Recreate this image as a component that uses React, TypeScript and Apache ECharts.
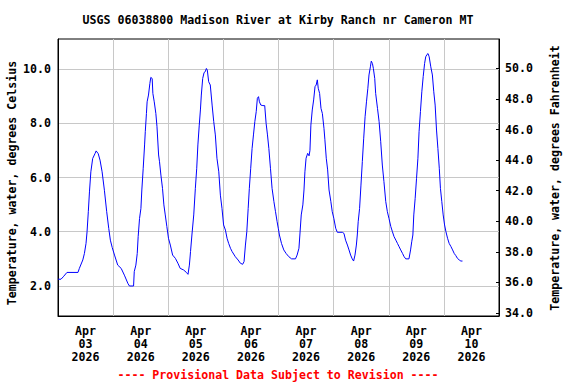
import React, { useEffect, useRef } from "react";
import * as echarts from "echarts";

// Hours since Apr 03 2026 00:00 and water temperature (deg C)
const hours: number[] = [
  0, 1.3, 2.3, 3.9, 8.7, 9.3, 10.8, 11.5, 12.2, 12.65, 13.2, 13.7, 14.3, 15.1, 16.1, 16.6, 17.5, 18.3, 19.2, 20.2,
  21.2, 22.1, 22.8, 23.6, 24.6, 26.0, 27.5, 28.9, 30.4, 31.1, 32.9, 33.2, 33.9, 34.5, 34.9, 35.5, 36.1, 36.5, 37.1, 37.7,
  38.0, 38.5, 38.8, 39.4, 40.0, 40.4, 41.0, 41.3, 41.9, 42.6, 43.1, 43.8, 44.2, 44.8, 45.5, 46.1, 46.7, 47.4, 48.1, 48.9,
  49.9, 51.1, 52.2, 53.2, 54.7, 55.9, 56.6, 57.2, 57.7, 58.3, 59.1, 59.8, 60.4, 60.9, 61.5, 62.0, 62.4, 63.0, 63.6, 64.1,
  64.6, 65.0, 65.6, 66.3, 67.1, 67.8, 68.5, 69.2, 70.0, 70.7, 71.4, 72.1, 72.9, 73.6, 74.3, 75.1, 75.8, 77.2, 78.4, 79.4,
  80.4, 81.0, 81.6, 82.2, 82.8, 83.3, 83.9, 84.5, 85.1, 85.7, 86.3, 86.8, 87.3, 87.7, 88.3, 89.2, 90.0, 90.6, 91.2, 91.8,
  92.5, 93.2, 94.0, 94.7, 95.4, 95.9, 96.4, 97.3, 98.3, 99.3, 100.5, 101.7, 103.4, 104.1, 104.9, 105.3, 105.9, 106.6, 107.1, 107.5,
  108.0, 108.7, 109.3, 109.7, 110.1, 110.7, 111.3, 111.9, 112.4, 112.9, 113.3, 113.9, 114.5, 115.1, 115.8, 116.2, 116.8, 117.4, 118.0, 118.8,
  119.4, 120.1, 120.9, 121.6, 123.8, 124.5, 125.2, 126.0, 126.7, 127.4, 128.1, 128.7, 129.3, 129.9, 130.3, 130.7, 131.3, 131.9, 132.5, 133.1,
  133.7, 134.3, 134.9, 135.4, 136.0, 136.4, 136.9, 137.3, 137.9, 138.3, 139.1, 139.8, 140.5, 141.2, 141.9, 142.7, 143.4, 144.1, 144.9, 145.6,
  146.3, 147.1, 147.8, 148.5, 149.2, 150.0, 150.7, 151.4, 152.8, 153.5, 154.0, 154.5, 154.9, 155.5, 156.1, 156.7, 157.2, 157.8, 158.4, 159.0,
  159.6, 160.1, 160.7, 161.1, 161.6, 162.3, 163.0, 163.6, 164.2, 164.8, 165.4, 166.0, 166.5, 167.1, 167.7, 168.3, 168.9, 169.6, 170.3, 171.1,
  171.8, 172.5, 173.2, 173.9, 174.7, 175.4, 176.1,
];

const tempC: number[] = [
  2.25, 2.25, 2.34, 2.5, 2.5, 2.65, 2.96, 3.2, 3.57, 4.0, 4.74, 5.47, 6.21, 6.7, 6.88, 6.98, 6.88, 6.64, 6.21, 5.53,
  4.74, 4.12, 3.69, 3.42, 3.14, 2.77, 2.65, 2.4, 2.1, 2.0, 2.0, 2.53, 2.77, 3.2, 3.82, 4.49, 4.86, 5.54, 6.34, 7.2,
  7.69, 8.36, 8.79, 9.04, 9.47, 9.69, 9.65, 9.1, 8.79, 8.36, 7.87, 6.83, 6.58, 6.09, 5.6, 4.99, 4.62, 4.19, 3.76, 3.51,
  3.14, 3.02, 2.84, 2.65, 2.59, 2.5, 2.43, 2.77, 3.27, 3.88, 4.62, 5.6, 6.34, 7.2, 7.93, 8.49, 9.04, 9.65, 9.87, 9.9,
  10.02, 9.96, 9.53, 9.41, 8.67, 8.06, 7.57, 6.71, 6.21, 5.35, 4.86, 4.25, 4.06, 3.76, 3.57, 3.39, 3.27, 3.08, 2.96, 2.84,
  2.8, 2.9, 3.51, 4.0, 4.86, 5.6, 6.34, 7.07, 7.57, 8.06, 8.43, 8.92, 8.98, 8.79, 8.67, 8.65, 8.65, 8.0, 7.57, 7.07,
  6.34, 5.6, 5.11, 4.74, 4.37, 4.13, 3.88, 3.57, 3.33, 3.2, 3.08, 3.0, 3.0, 3.14, 3.39, 3.88, 4.62, 4.99, 5.54, 6.21,
  6.71, 6.89, 6.8, 7.0, 7.93, 8.49, 8.86, 9.35, 9.41, 9.6, 9.29, 9.1, 8.55, 8.36, 7.81, 7.39, 6.71, 6.28, 5.54, 5.11,
  4.74, 4.49, 4.13, 3.98, 3.98, 3.94, 3.69, 3.51, 3.33, 3.14, 3.0, 2.92, 3.14, 3.51, 3.88, 4.37, 4.86, 5.72, 6.59, 7.45,
  8.24, 8.79, 9.29, 9.78, 10.08, 10.29, 10.2, 10.02, 9.65, 9.1, 8.55, 8.06, 7.32, 6.46, 5.85, 5.11, 4.74, 4.49, 4.19, 4.0,
  3.82, 3.69, 3.57, 3.45, 3.33, 3.2, 3.08, 3.0, 3.0, 3.33, 3.63, 3.88, 4.62, 5.23, 5.97, 6.71, 7.69, 8.43, 9.16, 9.72,
  10.2, 10.45, 10.54, 10.57, 10.45, 10.08, 9.78, 9.16, 8.67, 7.75, 7.07, 6.34, 5.6, 5.11, 4.62, 4.25, 4.0, 3.76, 3.57, 3.45,
  3.33, 3.2, 3.12, 3.02, 2.96, 2.92, 2.92,
];

const dateLabelHours: number[] = [12, 36, 60, 84, 108, 132, 156, 180];
const dateLabels: string[] = [
  "Apr\n03\n2026", "Apr\n04\n2026", "Apr\n05\n2026", "Apr\n06\n2026",
  "Apr\n07\n2026", "Apr\n08\n2026", "Apr\n09\n2026", "Apr\n10\n2026",
];
const celsiusTicks: number[] = [2, 4, 6, 8, 10];
const fahrenheitTicks: number[] = [34, 36, 38, 40, 42, 44, 46, 48, 50];

const titleText = "USGS 06038800 Madison River at Kirby Ranch nr Cameron MT";
const leftName = "Temperature, water, degrees Celsius";
const rightName = "Temperature, water, degrees Fahrenheit";
const footerText = "---- Provisional Data Subject to Revision ----";

const FONT = "'DejaVu Sans Mono', 'Liberation Mono', monospace";
const FS = 11.6;

export default function App() {
  const ref = useRef<HTMLDivElement>(null);

  useEffect(() => {
    document.body.style.margin = "0";
    if (!ref.current) return;
    const chart = echarts.init(ref.current, undefined, { renderer: "svg" });
    const textStyleBase = {
      fontFamily: FONT,
      fontSize: FS,
      fontWeight: "bold" as const,
      fill: "#000",
    };
    chart.setOption({
      animation: false,
      backgroundColor: "#fff",
      grid: {
        left: 58,
        right: 77,
        top: 39,
        bottom: 68,
        show: true,
        borderColor: "#000",
        borderWidth: 1,
        backgroundColor: "transparent",
      },
      xAxis: {
        type: "value",
        min: 0,
        max: 192,
        interval: 24,
        axisLine: { show: true, lineStyle: { color: "#000", width: 1 } },
        axisTick: { show: false },
        splitLine: { show: true, lineStyle: { color: "#c8c8c8", width: 1 } },
        axisLabel: {
          customValues: dateLabelHours,
          formatter: (v: number) => {
            const i = dateLabelHours.indexOf(Math.round(v));
            return i >= 0 ? dateLabels[i] : "";
          },
          margin: 9,
          color: "#000",
          fontFamily: FONT,
          fontSize: FS,
          fontWeight: "bold",
          lineHeight: 12.7,
          align: "center",
        },
      },
      yAxis: [
        {
          type: "value",
          position: "left",
          min: 0.894,
          max: 11.106,
          axisLine: { show: true, lineStyle: { color: "#000" } },
          axisTick: { show: false, customValues: celsiusTicks },
          splitLine: { show: true, lineStyle: { color: "#c8c8c8", width: 1 } },
          axisLabel: {
            customValues: celsiusTicks,
            formatter: (v: number) => v.toFixed(1),
            margin: 7,
            color: "#000",
            fontFamily: FONT,
            fontSize: FS,
            fontWeight: "bold",
          },
        },
        {
          type: "value",
          position: "right",
          min: 33.8,
          max: 51.93,
          axisLine: { show: true, lineStyle: { color: "#000" } },
          axisTick: {
            show: true,
            inside: true,
            length: 3,
            customValues: fahrenheitTicks,
            lineStyle: { color: "#000" },
          },
          splitLine: { show: false },
          axisLabel: {
            customValues: fahrenheitTicks,
            formatter: (v: number) => v.toFixed(1),
            margin: 6,
            color: "#000",
            fontFamily: FONT,
            fontSize: FS,
            fontWeight: "bold",
          },
        },
      ],
      series: [
        {
          type: "line",
          yAxisIndex: 0,
          data: hours.map((h, i) => [h, tempC[i]]),
          showSymbol: false,
          lineStyle: { color: "#0000ff", width: 1 },
          itemStyle: { color: "#0000ff" },
        },
      ],
      graphic: [
        {
          type: "text",
          x: 278,
          y: 20,
          style: { ...textStyleBase, text: titleText, textAlign: "center", textVerticalAlign: "middle" },
        },
        {
          type: "text",
          x: 12,
          y: 183,
          rotation: Math.PI / 2,
          style: { ...textStyleBase, text: leftName, textAlign: "center", textVerticalAlign: "middle" },
        },
        {
          type: "text",
          x: 555,
          y: 178,
          rotation: Math.PI / 2,
          style: { ...textStyleBase, text: rightName, textAlign: "center", textVerticalAlign: "middle" },
        },
        {
          type: "text",
          x: 278,
          y: 375,
          style: { ...textStyleBase, fill: "#ff0000", text: footerText, textAlign: "center", textVerticalAlign: "middle" },
        },
      ],
    });
    return () => chart.dispose();
  }, []);

  return <div ref={ref} style={{ width: 576, height: 384 }} />;
}
